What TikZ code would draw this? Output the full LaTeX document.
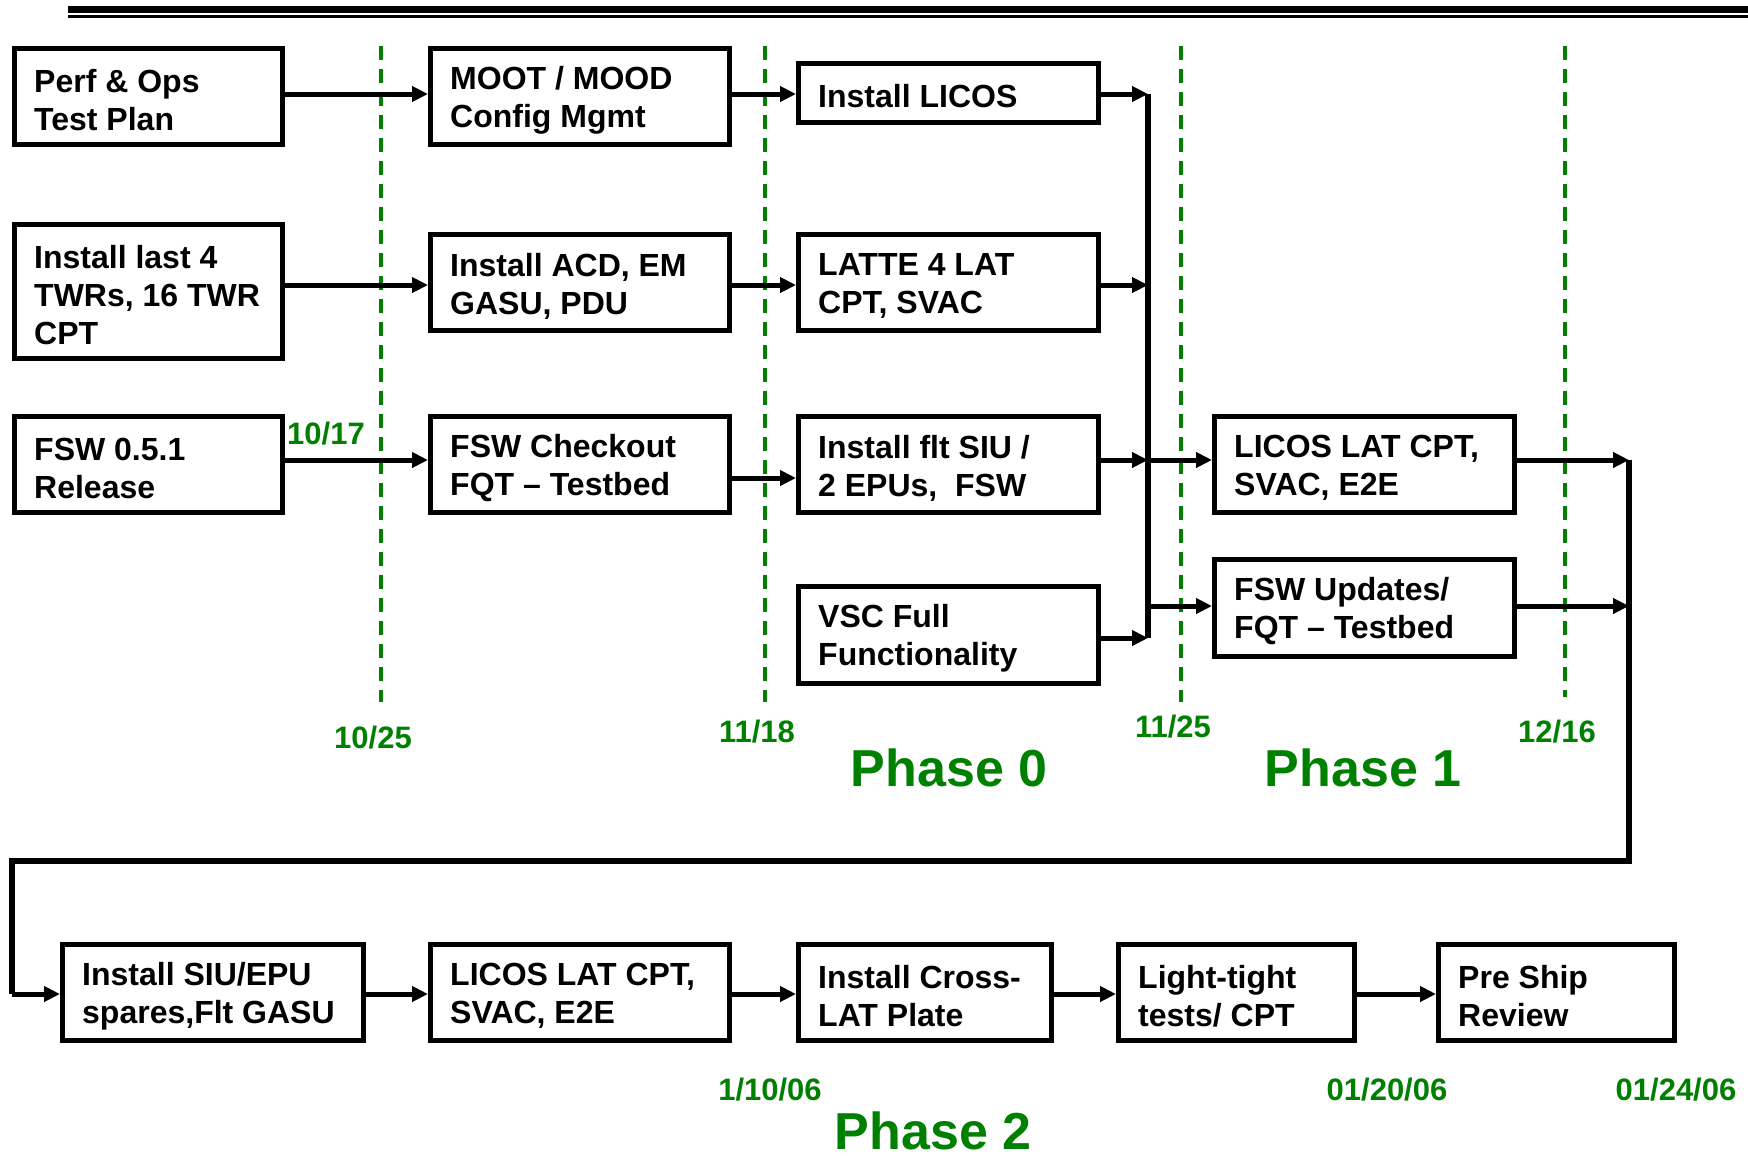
\documentclass[tikz,border=0pt]{standalone}
\usepackage{fontspec}
\setmainfont{Liberation Sans}
\usetikzlibrary{arrows.meta}
\definecolor{dgreen}{RGB}{0,128,0}
\begin{document}
\begin{tikzpicture}[x=1pt,y=-1pt,
  box/.style={draw, line width=5pt, rectangle, inner sep=0pt},
  txt/.style={anchor=west, align=left, inner sep=0pt, font=\fontsize{32}{38}\selectfont\bfseries},
  arr/.style={line width=5pt, -{Triangle[length=16pt,width=15pt]}},
  ln/.style={line width=5.5pt},
  vline/.style={draw=dgreen, line width=3.5pt, dash pattern=on 14pt off 9pt},
  datelbl/.style={text=dgreen, inner sep=0pt, font=\fontsize{31}{36}\selectfont\bfseries},
  phaselbl/.style={text=dgreen, inner sep=0pt, font=\fontsize{52}{60}\selectfont\bfseries}]
\useasboundingbox (0,0) rectangle (1748,1157);

% top rule
\draw[line width=7pt] (68,9.5) -- (1748,9.5);
\draw[line width=2.5pt] (68,16.5) -- (1748,16.5);

% dashed milestone lines
\draw[vline] (381,46) -- (381,702);
\draw[vline] (765,46) -- (765,702);
\draw[vline] (1181,46) -- (1181,702);
\draw[vline] (1565,46) -- (1565,697);

% boxes
\newcommand\bx[6]{\node[box, minimum width=#4pt, minimum height=#5pt] (#1) at (#2,#3) {};
  \node[txt] (#1t) at ([xshift=22pt,yshift=-3.5pt]#1.west) {#6};}
\bx{a1}{148.5}{96.5}{268}{96}{Perf \& Ops\\Test Plan}
\bx{b1}{580}{96.5}{299}{96}{MOOT / MOOD\\Config Mgmt}
\bx{c1}{948.5}{93}{300}{59}{Install LICOS}
\bx{a2}{148.5}{291.5}{268}{134}{Install last 4\\TWRs, 16 TWR\\CPT}
\bx{b2}{580}{282.5}{299}{96}{Install ACD, EM\\GASU, PDU}
\bx{c2}{948.5}{282.5}{300}{96}{LATTE 4 LAT\\CPT, SVAC}
\bx{a3}{148.5}{464.5}{268}{96}{FSW 0.5.1\\Release}
\bx{b3}{580}{464.5}{299}{96}{FSW Checkout\\FQT – Testbed}
\bx{c3}{948.5}{464.5}{300}{96}{Install flt SIU /\\2 EPUs,\ \ FSW}
\bx{d1}{1364.5}{464.5}{300}{96}{LICOS LAT CPT,\\SVAC, E2E}
\bx{c4}{948.5}{635}{300}{97}{VSC Full\\Functionality}
\bx{d2}{1364.5}{608}{300}{97}{FSW Updates/\\FQT – Testbed}
\bx{e1}{213}{992.5}{301}{96}{Install SIU/EPU\\spares,Flt GASU}
\bx{e2}{580}{992.5}{299}{96}{LICOS LAT CPT,\\SVAC, E2E}
\bx{e3}{925}{992.5}{253}{96}{Install Cross-\\LAT Plate}
\bx{e4}{1236.5}{992.5}{236}{96}{Light-tight\\tests/ CPT}
\bx{e5}{1556.5}{992.5}{236}{96}{Pre Ship\\Review}

% connector coordinates
\coordinate (bt) at (1148,94);
\coordinate (bb) at (1148,638);
\coordinate (rt) at (1629,460);
\coordinate (rb) at (1629,861);
\coordinate (lb) at (12,861);

% row arrows
\draw[arr] (a1.east |- 0,94) -- (b1.west |- 0,94);
\draw[arr] (b1.east |- 0,94) -- (c1.west |- 0,94);
\draw[arr] (a2.east |- 0,285) -- (b2.west |- 0,285);
\draw[arr] (b2.east |- 0,285) -- (c2.west |- 0,285);
\draw[arr] (a3.east |- 0,460) -- (b3.west |- 0,460);
\draw[arr] (b3.east |- 0,478) -- (c3.west |- 0,478);

% bus
\draw[ln] (bt) -- (bb);
\draw[arr] (c1.east |- bt) -- (bt);
\draw[arr] (c2.east |- 0,285) -- (bt |- 0,285);
\draw[arr] (c3.east |- 0,460) -- (bt |- 0,460);
\draw[arr] (c4.east |- bb) -- (bb);
\draw[arr] (bt |- 0,460) -- (d1.west |- 0,460);
\draw[arr] (bt |- 0,606) -- (d2.west |- 0,606);

% right side loop
\draw[arr] (d1.east |- rt) -- (rt);
\draw[arr] (d2.east |- 0,606) -- (rt |- 0,606);
\draw[ln, line join=miter] (rt) -- (rb) -- (lb) -- (lb |- 0,994);
\draw[arr] (lb |- 0,994) -- (e1.west |- 0,994);

% bottom row arrows
\draw[arr] (e1.east |- 0,994) -- (e2.west |- 0,994);
\draw[arr] (e2.east |- 0,994) -- (e3.west |- 0,994);
\draw[arr] (e3.east |- 0,994) -- (e4.west |- 0,994);
\draw[arr] (e4.east |- 0,994) -- (e5.west |- 0,994);

% labels
\node[datelbl] (l1017) at (326,434) {10/17};
\node[datelbl] (l1025) at (373,738) {10/25};
\node[datelbl] (l1118) at (757,732) {11/18};
\node[datelbl] (l1125) at (1173,727) {11/25};
\node[datelbl] (l1216) at (1557,732) {12/16};
\node[phaselbl] (p0) at (949,768) {Phase 0};
\node[phaselbl] (p1) at (1363,768) {Phase 1};
\node[datelbl] (l0110) at (770,1090) {1/10/06};
\node[datelbl] (l0120) at (1387,1090) {01/20/06};
\node[datelbl] (l0124) at (1676,1090) {01/24/06};
\node[phaselbl] (p2) at (933,1131) {Phase 2};
\end{tikzpicture}
\end{document}
